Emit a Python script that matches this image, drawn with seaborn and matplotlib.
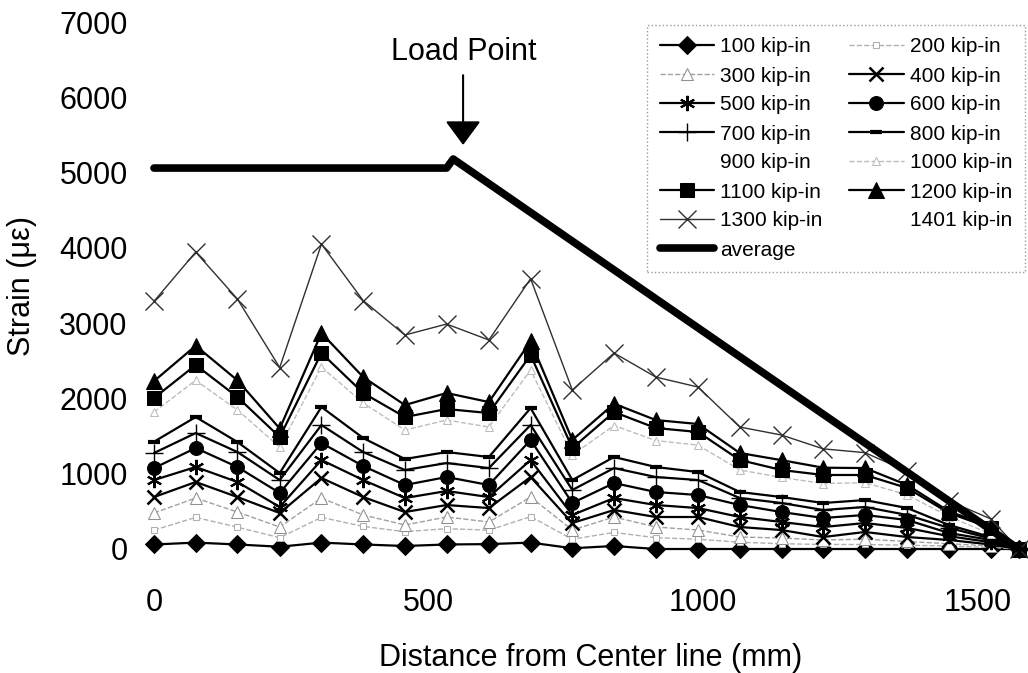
import matplotlib
matplotlib.use('Agg')
import matplotlib.pyplot as plt
import seaborn as sns

# gauge positions along the beam (mm)
distance = [0, 76, 152, 229, 305, 381, 457, 533, 610, 686, 762,
            838, 914, 991, 1067, 1143, 1219, 1295, 1372, 1448, 1524, 1575]

# strain readings (micro-strain) for each moment level
strain_100 = [60, 85, 60, 30, 85, 60, 40, 60, 65, 85, 10, 40, 0, 0, 0, 0, 0, 0, 0, 0, 0, 0]
strain_200 = [250, 420, 290, 150, 420, 300, 230, 270, 250, 430, 130, 220, 150, 130, 90, 70, 60, 60, 50, 40, 20, 0]
strain_300 = [478, 677, 491, 292, 677, 452, 319, 425, 359, 690, 252, 425, 292, 252, 159, 146, 120, 130, 100, 70, 40, 0]
strain_400 = [690, 890, 690, 478, 943, 690, 491, 584, 544, 956, 345, 518, 425, 425, 292, 252, 159, 226, 159, 120, 60, 0]
strain_500 = [916, 1089, 890, 558, 1182, 916, 677, 770, 690, 1182, 452, 677, 584, 544, 425, 359, 292, 345, 279, 170, 90, 0]
strain_600 = [1075, 1341, 1089, 744, 1408, 1102, 850, 956, 850, 1448, 611, 876, 757, 717, 584, 491, 412, 452, 385, 212, 120, 0]
strain_700 = [1275, 1540, 1288, 916, 1647, 1288, 1049, 1142, 1075, 1647, 784, 1075, 956, 916, 677, 611, 518, 558, 452, 280, 140, 0]
strain_800 = [1425, 1753, 1421, 1009, 1886, 1474, 1195, 1288, 1222, 1872, 916, 1222, 1089, 1022, 757, 690, 611, 650, 544, 319, 159, 0]
strain_900 = [1620, 2000, 1630, 1180, 2150, 1690, 1390, 1490, 1420, 2130, 1080, 1420, 1270, 1210, 900, 820, 740, 770, 630, 370, 180, 0]
strain_1000 = [1820, 2240, 1846, 1354, 2417, 1939, 1580, 1713, 1620, 2377, 1250, 1640, 1440, 1380, 1050, 950, 870, 880, 720, 430, 200, 0]
strain_1100 = [2005, 2444, 2018, 1487, 2603, 2072, 1753, 1859, 1806, 2576, 1341, 1819, 1607, 1554, 1182, 1049, 983, 983, 810, 478, 279, 0]
strain_1200 = [2230, 2700, 2240, 1600, 2868, 2284, 1912, 2072, 1952, 2760, 1448, 1930, 1713, 1660, 1275, 1180, 1080, 1075, 850, 500, 300, 0]
strain_1300 = [3290, 3944, 3320, 2410, 4050, 3300, 2842, 2988, 2776, 3590, 2111, 2603, 2284, 2151, 1620, 1514, 1330, 1280, 1030, 640, 400, 0]
strain_1401 = [4400, 5100, 4500, 4100, 5300, 4500, 3900, 4100, 3800, 4700, 3000, 3600, 3200, 3000, 2300, 2100, 1900, 1800, 1400, 900, 550, 0]

avg_distance = [0, 533, 545, 1575]
avg_strain = [5060, 5060, 5180, 0]

series = [
    ('100 kip-in', strain_100, dict(color='black', marker='D', ms=9, lw=1.6, mec='black')),
    ('200 kip-in', strain_200, dict(color='#b0b0b0', marker='s', ms=5, mfc='white', mec='#b0b0b0', lw=1, ls='--')),
    ('300 kip-in', strain_300, dict(color='#a0a0a0', marker='^', ms=8, mfc='white', mec='#909090', lw=1, ls='--')),
    ('400 kip-in', strain_400, dict(color='black', marker='x', ms=10, mew=1.8, mec='black', lw=1.6)),
    ('500 kip-in', strain_500, dict(color='black', marker=(6, 2, 0), ms=11, mew=1.5, mec='black', lw=1.6)),
    ('600 kip-in', strain_600, dict(color='black', marker='o', ms=10, mec='black', lw=1.6)),
    ('700 kip-in', strain_700, dict(color='black', marker='+', ms=13, mew=1, mec='black', lw=1.6)),
    ('800 kip-in', strain_800, dict(color='black', marker='_', ms=8, mew=3, mec='black', lw=1.6)),
    ('900 kip-in', strain_900, dict(color='white', lw=1, zorder=1)),
    ('1000 kip-in', strain_1000, dict(color='#bdbdbd', marker='^', ms=6, mfc='white', mec='#bdbdbd', lw=1, ls='--')),
    ('1100 kip-in', strain_1100, dict(color='black', marker='s', ms=10, mec='black', lw=1.6)),
    ('1200 kip-in', strain_1200, dict(color='black', marker='^', ms=11, mec='black', lw=1.6)),
    ('1300 kip-in', strain_1300, dict(color='#303030', marker='x', ms=13, mew=1, mec='#303030', lw=1)),
    ('1401 kip-in', strain_1401, dict(color='white', lw=1, zorder=1)),
]

sns.set_theme(style='white')
plt.rcParams['font.family'] = ['Liberation Sans', 'DejaVu Sans']
plt.rcParams['text.color'] = 'black'
plt.rcParams['axes.labelcolor'] = 'black'
plt.rcParams['xtick.color'] = 'black'
plt.rcParams['ytick.color'] = 'black'

fig = plt.figure(figsize=(10.28, 6.73), dpi=100)
ax = fig.add_axes([154 / 1028, 124 / 673, 874 / 1028, 527 / 673])

for name, vals, style in series:
    sns.lineplot(x=distance, y=vals, ax=ax, label=name, sort=False,
                 clip_on=False, **style)

sns.lineplot(x=avg_distance, y=avg_strain, ax=ax, label='average', sort=False,
             color='black', lw=5.5, clip_on=False, zorder=3)

# load point marker
ax.annotate('', xy=(563, 5330), xytext=(563, 6330),
            arrowprops=dict(arrowstyle='-|>,head_width=0.37,head_length=0.5',
                            mutation_scale=30, color='black', lw=1.5))
ax.text(565, 6600, 'Load Point', ha='center', va='center', fontsize=22)

ax.set_xlim(0, 1592)
ax.set_ylim(0, 7000)
ax.set_xticks([0, 500, 1000, 1500])
ax.set_yticks(range(0, 7001, 1000))
ax.tick_params(axis='x', labelsize=22, length=0, pad=28)
ax.tick_params(axis='y', labelsize=22, length=0, pad=19)
ax.set_xlabel('Distance from Center line (mm)', fontsize=22, labelpad=18)
ax.set_ylabel('Strain (με)', fontsize=22, labelpad=16)
for sp in ax.spines.values():
    sp.set_visible(False)

# legend filled row by row like the original
handles, labels = ax.get_legend_handles_labels()
lookup = dict(zip(labels, handles))
col1 = ['100 kip-in', '300 kip-in', '500 kip-in', '700 kip-in', '900 kip-in',
        '1100 kip-in', '1300 kip-in', 'average']
col2 = ['200 kip-in', '400 kip-in', '600 kip-in', '800 kip-in', '1000 kip-in',
        '1200 kip-in', '1401 kip-in']
order = col1 + col2
leg = ax.legend([lookup[k] for k in order], order, ncol=2, fontsize=15,
                loc='upper left', bbox_to_anchor=(647 / 1028, 1 - 25 / 673),
                bbox_transform=fig.transFigure, borderaxespad=0,
                handlelength=2.6, handletextpad=0.3, columnspacing=1.3,
                labelspacing=0.48, borderpad=0.6, fancybox=False,
                framealpha=1, edgecolor='#999999')
leg.get_frame().set_linestyle(':')
leg.get_frame().set_linewidth(1)

fig.savefig('out.png', dpi=100)
